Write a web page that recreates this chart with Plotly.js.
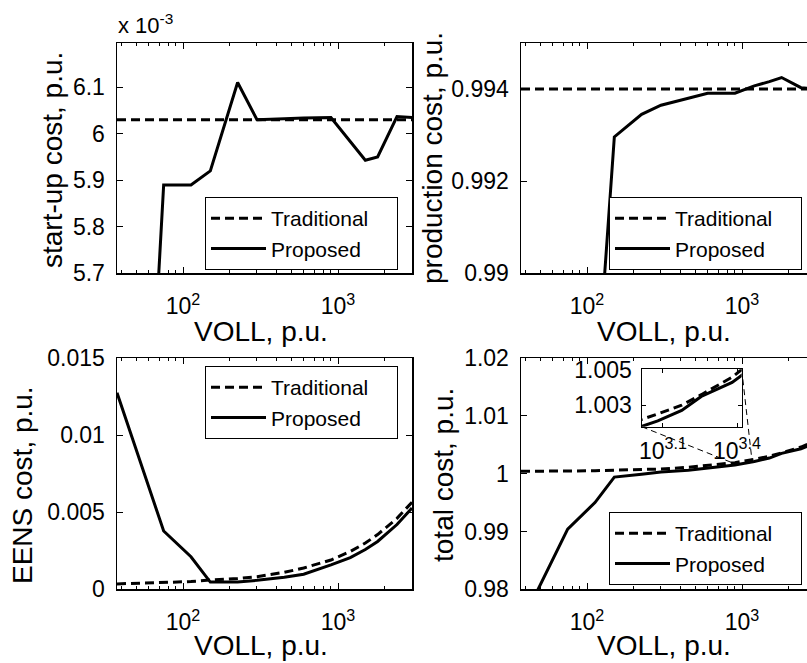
<!DOCTYPE html>
<html>
<head>
<meta charset="utf-8">
<script src="https://cdn.plot.ly/plotly-3.0.1.min.js"></script>
<style>
  html, body { margin: 0; padding: 0; overflow: hidden; background: #ffffff; }
  #chart { width: 830px; height: 663px; }
</style>
</head>
<body>
<div id="chart"></div>
<script>
// ---------------- data ----------------
const voll = [37.5, 75, 112.5, 150, 225, 300, 450, 600, 900, 1200, 1500, 1800, 2400, 3000];

// start-up cost, p.u. (x 10^-3)
const startupTraditional = [6.03, 6.03, 6.03, 6.03, 6.03, 6.03, 6.03, 6.03, 6.03, 6.03, 6.03, 6.03, 6.03, 6.03];
const startupProposed    = [4.08, 5.89, 5.89, 5.92, 6.11, 6.03, 6.032, 6.034, 6.035, 5.982, 5.943, 5.95, 6.037, 6.035];

// production cost, p.u.
const productionTraditional = [0.994, 0.994, 0.994, 0.994, 0.994, 0.994, 0.994, 0.994, 0.994, 0.994, 0.994, 0.994, 0.994, 0.994];
const productionProposed    = [0.957, 0.9807, 0.987, 0.99296, 0.99345, 0.99365, 0.9938, 0.99391, 0.99391, 0.99407, 0.99416, 0.99425, 0.99403, 0.994];

// EENS cost, p.u.
const eensTraditional = [0.00035, 0.00042, 0.0005, 0.0006, 0.0007, 0.00082, 0.0011, 0.00138, 0.0019, 0.00245, 0.003, 0.00355, 0.0046, 0.00565];
const eensProposed    = [0.01275, 0.00378, 0.00211, 0.00047, 0.00048, 0.00058, 0.00078, 0.00098, 0.00158, 0.00205, 0.00258, 0.0031, 0.0042, 0.00527];

// total cost, p.u.
const totalTraditional = [1.0004, 1.0004, 1.0005, 1.0006, 1.0007, 1.0008, 1.0011, 1.0014, 1.0019, 1.0025, 1.003, 1.0036, 1.0046, 1.0057];
const totalProposed    = [0.974, 0.9904, 0.995, 0.9994, 0.9999, 1.0003, 1.0006, 1.001, 1.0015, 1.0021, 1.0027, 1.0035, 1.0043, 1.0053];

// axis ticks
const xMajorVals = [100, 1000];
const xMajorText = ['10<sup>2</sup>', '10<sup>3</sup>'];
const xMinorVals = [40, 50, 60, 70, 80, 90, 200, 300, 400, 500, 600, 700, 800, 900, 2000, 3000];
const startupTickVals = [5.7, 5.8, 5.9, 6.0, 6.1];
const startupTickText = ['5.7', '5.8', '5.9', '6', '6.1'];
const productionTickVals = [0.99, 0.992, 0.994];
const productionTickText = ['0.99', '0.992', '0.994'];
const eensTickVals = [0, 0.005, 0.01, 0.015];
const eensTickText = ['0', '0.005', '0.01', '0.015'];
const totalTickVals = [0.98, 0.99, 1.0, 1.01, 1.02];
const totalTickText = ['0.98', '0.99', '1', '1.01', '1.02'];
const insetXTickVals = [Math.pow(10, 3.1), Math.pow(10, 3.4)];
const insetXTickText = ['10<sup>3.1</sup>', '10<sup>3.4</sup>'];
const insetYTickVals = [1.003, 1.005];
const insetYTickText = ['1.003', '1.005'];
// where the inset's guide lines meet the main curve
const insetGuideVoll = [900, 1160];
const insetGuideCost = [1.0017, 1.0022];

const seriesNames = ['Traditional', 'Proposed'];
const axisTitleX = 'VOLL, p.u.';
const yTitles = ['start-up cost, p.u.', 'production cost, p.u.', 'EENS cost, p.u.', 'total cost, p.u.'];

// ---------------- layout geometry ----------------
const W = 830, H = 663;
const px = v => v / W;
const py = v => 1 - v / H;
const FONT = 'Liberation Sans, Arial, Helvetica, sans-serif';
const TICK_SIZE = 23;
const TITLE_SIZE = 28;
const LEGEND_SIZE = 21;
const PAD = '\u00a0\u00a0\u00a0\u00a0';  // widens the legend boxes like the reference

const dxL = [px(117), px(412)];
const dxR = [px(521), px(816)];
const dyT = [py(273.3), py(43)];
const dyB = [py(589.3), py(358)];
const xRangeLog = [Math.log10(voll[0]), Math.log10(voll[voll.length - 1])];
const insetDx = [px(641.7), px(741.7)];
const insetDy = [py(426.7), py(369.3)];
const insetXRangeLog = [3.014, 3.419];
const insetYRange = [1.00177, 1.00505];

function xAxis(domain, anchor) {
  return {
    type: 'log', domain: domain, anchor: anchor, range: xRangeLog.slice(),
    showline: true, linecolor: 'black', linewidth: 1.5, mirror: 'ticks',
    ticks: 'inside', ticklen: 6, tickwidth: 1, tickcolor: 'black',
    tickmode: 'array', tickvals: xMajorVals, ticktext: xMajorText,
    minor: { tickmode: 'array', tickvals: xMinorVals, ticks: 'inside', ticklen: 3, tickwidth: 1, tickcolor: 'black', showgrid: false },
    showgrid: false, zeroline: false,
    ticklabelstandoff: 12,
    tickfont: { family: FONT, size: TICK_SIZE, color: 'black' }
  };
}
function yAxis(domain, anchor, range, vals, text) {
  return {
    domain: domain, anchor: anchor, range: range,
    showline: true, linecolor: 'black', linewidth: 1.5, mirror: 'ticks',
    ticks: 'inside', ticklen: 6, tickwidth: 1, tickcolor: 'black',
    tickmode: 'array', tickvals: vals, ticktext: text,
    showgrid: false, zeroline: false,
    ticklabelstandoff: 6,
    tickfont: { family: FONT, size: TICK_SIZE, color: 'black' }
  };
}

const dashStyle = { color: 'black', width: 3, dash: '9px,5px' };
const solidStyle = { color: 'black', width: 3 };

function pair(xa, ya, legendId, tradVals, propVals, show) {
  return [
    { x: voll, y: tradVals, xaxis: xa, yaxis: ya, type: 'scatter', mode: 'lines', name: seriesNames[0] + PAD,
      line: dashStyle, legend: legendId, showlegend: show, hoverinfo: 'skip' },
    { x: voll, y: propVals, xaxis: xa, yaxis: ya, type: 'scatter', mode: 'lines', name: seriesNames[1],
      line: solidStyle, legend: legendId, showlegend: show, hoverinfo: 'skip' }
  ];
}

// inset guide lines: inset corners expressed in main axis (x4/y4) coordinates
const mainY4 = [0.98, 1.02];
function insetCornerX(frac) {
  const t = (frac - dxR[0]) / (dxR[1] - dxR[0]);
  return Math.pow(10, xRangeLog[0] + t * (xRangeLog[1] - xRangeLog[0]));
}
function insetCornerY(frac) {
  const t = (frac - dyB[0]) / (dyB[1] - dyB[0]);
  return mainY4[0] + t * (mainY4[1] - mainY4[0]);
}
const guideStyle = { color: 'black', width: 1, dash: '6px,4px' };

const data = [].concat(
  pair('x', 'y', 'legend', startupTraditional, startupProposed, true),
  pair('x2', 'y2', 'legend2', productionTraditional, productionProposed, true),
  pair('x3', 'y3', 'legend3', eensTraditional, eensProposed, true),
  pair('x4', 'y4', 'legend4', totalTraditional, totalProposed, true),
  [
    { x: [insetCornerX(insetDx[0]), insetGuideVoll[0]], y: [insetCornerY(insetDy[0]), insetGuideCost[0]],
      xaxis: 'x4', yaxis: 'y4', type: 'scatter', mode: 'lines', line: guideStyle, showlegend: false, hoverinfo: 'skip' },
    { x: [insetCornerX(insetDx[1]), insetGuideVoll[1]], y: [insetCornerY(insetDy[1]), insetGuideCost[1]],
      xaxis: 'x4', yaxis: 'y4', type: 'scatter', mode: 'lines', line: guideStyle, showlegend: false, hoverinfo: 'skip' }
  ],
  pair('x5', 'y5', 'legend4', totalTraditional, totalProposed, false)
);

function legendAt(x, y) {
  return {
    x: x, y: y, xref: 'paper', yref: 'paper', xanchor: 'left', yanchor: 'top',
    bgcolor: 'white', bordercolor: 'black', borderwidth: 1,
    font: { family: FONT, size: LEGEND_SIZE, color: 'black' },
    itemwidth: 55, tracegroupgap: 0, traceorder: 'normal'
  };
}

function ann(text, x, y, rot, size) {
  return { text: text, x: x, y: y, xref: 'paper', yref: 'paper', showarrow: false,
    textangle: rot || 0, xanchor: 'center', yanchor: 'middle',
    font: { family: FONT, size: size || TITLE_SIZE, color: 'black' } };
}

const xaxis5 = xAxis(insetDx, 'y5');
delete xaxis5.minor;
Object.assign(xaxis5, { range: insetXRangeLog.slice(), tickvals: insetXTickVals, ticktext: insetXTickText,
  linewidth: 1.2, ticklen: 4, ticklabelstandoff: 3 });
const yaxis5 = yAxis(insetDy, 'x5', insetYRange.slice(), insetYTickVals, insetYTickText);
Object.assign(yaxis5, { linewidth: 1.2, ticklen: 4, ticklabelstandoff: 4 });

const layout = {
  width: W, height: H,
  margin: { l: 0, r: 0, t: 0, b: 0, pad: 0 },
  paper_bgcolor: 'white', plot_bgcolor: 'white',
  font: { family: FONT, color: 'black' },
  xaxis: xAxis(dxL, 'y'),
  yaxis: yAxis(dyT, 'x', [5.7, 6.195], startupTickVals, startupTickText),
  xaxis2: xAxis(dxR, 'y2'),
  yaxis2: yAxis(dyT, 'x2', [0.99, 0.995], productionTickVals, productionTickText),
  xaxis3: xAxis(dxL, 'y3'),
  yaxis3: yAxis(dyB, 'x3', [0, 0.015], eensTickVals, eensTickText),
  xaxis4: xAxis(dxR, 'y4'),
  yaxis4: yAxis(dyB, 'x4', mainY4.slice(), totalTickVals, totalTickText),
  xaxis5: xaxis5,
  yaxis5: yaxis5,
  legend: legendAt(px(205), py(197)),
  legend2: legendAt(px(609), py(197)),
  legend3: legendAt(px(205), py(366)),
  legend4: legendAt(px(609), py(512)),
  annotations: [
    ann(yTitles[0], px(52), py(160), -90),
    ann(yTitles[1], px(432), py(158), -90),
    ann(yTitles[2], px(23), py(485), -90),
    ann(yTitles[3], px(443), py(475), -90),
    ann(axisTitleX, px(261), py(331)),
    ann(axisTitleX, px(664), py(331)),
    ann(axisTitleX, px(261), py(645)),
    ann(axisTitleX, px(664), py(645)),
    { text: 'x 10<sup>-3</sup>', x: px(116), y: py(24), xref: 'paper', yref: 'paper', showarrow: false,
      xanchor: 'left', yanchor: 'middle', font: { family: FONT, size: 22, color: 'black' } }
  ],
  showlegend: true
};

Plotly.newPlot('chart', data, layout, { staticPlot: true, displayModeBar: false });
</script>
</body>
</html>
